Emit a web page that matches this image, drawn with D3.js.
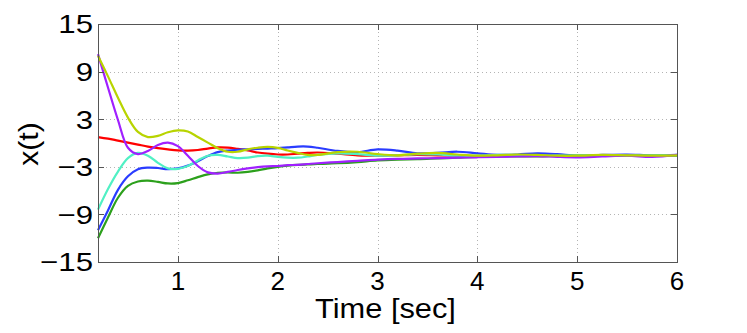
<!DOCTYPE html>
<html>
<head>
<meta charset="utf-8">
<script src="https://cdn.jsdelivr.net/npm/d3@7"></script>
<style>
  body { margin: 0; background: #fff; }
  text { font-family: "Liberation Sans", Arial, sans-serif; fill: #000; }
</style>
</head>
<body>
<div class="grafico"></div>
<script>
var width = 747, height = 333;
var margin = { top: 24, right: 70, bottom: 71, left: 98 };

// sample times (sec)
var time = [0.2, 0.3, 0.4, 0.5, 0.6, 0.7, 0.8, 0.9, 1.0, 1.1, 1.2, 1.3, 1.4, 1.5, 1.6, 1.7, 1.8, 1.9, 2.0, 2.1,
  2.2, 2.3, 2.4, 2.6, 2.8, 3.0, 3.2, 3.4, 3.6, 3.8, 4.0, 4.2, 4.4, 4.6, 4.8, 5.0, 5.25, 5.5, 5.75, 6.0];

// one series per state
var xRed = [0.75, 0.55, 0.3, 0.05, -0.2, -0.45, -0.65, -0.8, -0.92, -0.95, -0.88, -0.7, -0.55, -0.58, -0.75, -0.95, -1.2, -1.35, -1.45, -1.45,
  -1.35, -1.25, -1.2, -1.35, -1.55, -1.6, -1.55, -1.5, -1.55, -1.6, -1.65, -1.6, -1.55, -1.6, -1.6, -1.6, -1.55, -1.6, -1.6, -1.58];
var xBlue = [-11.0, -8.5, -5.9, -4.2, -3.3, -3.1, -3.15, -3.3, -3.2, -2.85, -2.3, -1.65, -1.15, -0.95, -0.85, -0.8, -0.75, -0.7, -0.65, -0.55,
  -0.45, -0.45, -0.6, -1.0, -1.15, -0.8, -0.95, -1.3, -1.25, -1.1, -1.3, -1.5, -1.45, -1.3, -1.4, -1.6, -1.5, -1.45, -1.55, -1.5];
var xGreen = [-12.0, -9.4, -6.9, -5.4, -4.85, -4.75, -4.9, -5.1, -5.05, -4.7, -4.3, -3.95, -3.75, -3.7, -3.75, -3.65, -3.45, -3.2, -3.0, -2.85,
  -2.75, -2.7, -2.65, -2.55, -2.4, -2.2, -2.1, -2.05, -1.95, -1.85, -1.75, -1.7, -1.7, -1.7, -1.65, -1.6, -1.6, -1.6, -1.6, -1.6];
var xCyan = [-8.4, -5.8, -3.6, -1.9, -1.25, -1.6, -2.5, -3.2, -3.25, -2.9, -2.2, -1.6, -1.5, -1.7, -1.9, -1.85, -1.65, -1.6, -1.75, -1.85,
  -1.85, -1.7, -1.5, -1.3, -1.4, -1.6, -1.55, -1.4, -1.45, -1.6, -1.6, -1.5, -1.5, -1.6, -1.6, -1.55, -1.55, -1.6, -1.55, -1.55];
var xPurple = [11.2, 7.0, 2.9, -0.6, -1.4, -1.0, -0.25, 0.05, -0.4, -1.6, -2.9, -3.7, -3.85, -3.65, -3.4, -3.2, -3.05, -2.95, -2.9, -2.8,
  -2.75, -2.65, -2.55, -2.4, -2.25, -2.1, -2.0, -1.95, -1.9, -1.85, -1.8, -1.75, -1.7, -1.65, -1.75, -1.8, -1.7, -1.6, -1.75, -1.5];
var xYellow = [11.0, 8.4, 5.7, 3.2, 1.4, 0.75, 0.9, 1.35, 1.6, 1.45, 0.75, 0.05, -0.65, -1.1, -1.1, -0.8, -0.6, -0.5, -0.62, -0.95,
  -1.25, -1.5, -1.5, -1.15, -1.1, -1.4, -1.55, -1.35, -1.25, -1.45, -1.6, -1.55, -1.45, -1.5, -1.6, -1.6, -1.5, -1.55, -1.6, -1.55];

var series = [
  { values: xRed, color: "#ff0000" },
  { values: xBlue, color: "#2a3cff" },
  { values: xGreen, color: "#2ca01c" },
  { values: xCyan, color: "#50f0c4" },
  { values: xPurple, color: "#a020ff" },
  { values: xYellow, color: "#b8d400" }
];

var xTicks = [1, 2, 3, 4, 5, 6];
var yTicks = [-15, -9, -3, 3, 9, 15];

var svg = d3.select(".grafico").append("svg")
  .attr("width", width)
  .attr("height", height);

var x = d3.scaleLinear().domain([0.2, 6]).range([margin.left, width - margin.right]);
var y = d3.scaleLinear().domain([-15, 15]).range([height - margin.bottom, margin.top]);

var x0 = margin.left, x1 = width - margin.right;
var y0 = height - margin.bottom, y1 = margin.top;

// grid
var grid = svg.append("g")
  .attr("stroke", "#b4b4b4")
  .attr("stroke-width", 1)
  .attr("stroke-dasharray", "1,3");
grid.selectAll(".gx").data(xTicks.filter(d => d < 6))
  .enter().append("line")
  .attr("x1", d => Math.round(x(d)) + 0.5).attr("x2", d => Math.round(x(d)) + 0.5)
  .attr("y1", y1).attr("y2", y0);
grid.selectAll(".gy").data(yTicks.filter(d => d > -15 && d < 15))
  .enter().append("line")
  .attr("y1", d => Math.round(y(d)) + 0.5).attr("y2", d => Math.round(y(d)) + 0.5)
  .attr("x1", x0).attr("x2", x1);

// lines
var line = d3.line()
  .x((d, i) => x(time[i]))
  .y(d => y(d))
  .curve(d3.curveCatmullRom.alpha(0.5));

svg.append("g").selectAll("path")
  .data(series)
  .enter().append("path")
  .attr("d", d => line(d.values))
  .attr("fill", "none")
  .attr("stroke", d => d.color)
  .attr("stroke-width", 2.2)
  .attr("stroke-linejoin", "round");

// box and ticks
var box = svg.append("g").attr("stroke", "#555").attr("stroke-width", 1).attr("fill", "none");
box.append("rect")
  .attr("x", x0 + 0.5).attr("y", y1 + 0.5)
  .attr("width", x1 - x0).attr("height", y0 - y1);
var tl = 6;
xTicks.forEach(function (t) {
  var px = Math.round(x(t)) + 0.5;
  box.append("line").attr("x1", px).attr("x2", px).attr("y1", y0).attr("y2", y0 - tl);
  box.append("line").attr("x1", px).attr("x2", px).attr("y1", y1).attr("y2", y1 + tl);
});
yTicks.forEach(function (t) {
  var py = Math.round(y(t)) + 0.5;
  box.append("line").attr("x1", x0).attr("x2", x0 + tl).attr("y1", py).attr("y2", py);
  box.append("line").attr("x1", x1).attr("x2", x1 - tl).attr("y1", py).attr("y2", py);
});

// tick labels
svg.append("g").selectAll("text")
  .data(xTicks)
  .enter().append("text")
  .attr("x", d => x(d))
  .attr("y", y0 + 28)
  .attr("text-anchor", "middle")
  .style("font-size", "26px")
  .text(d => d);

// y labels come out a bit wide in the original
svg.append("g").selectAll("text")
  .data(yTicks)
  .enter().append("text")
  .attr("transform", d => "translate(" + (x0 - 5) + "," + y(d) + ") scale(1.2,1)")
  .attr("dy", "0.36em")
  .attr("text-anchor", "end")
  .style("font-size", "26px")
  .text(d => d < 0 ? "\u2212" + Math.abs(d) : d);

// axis titles
svg.append("text")
  .attr("transform", "translate(" + ((x0 + x1) / 2 - 2) + ",318) scale(1.1,1)")
  .attr("text-anchor", "middle")
  .style("font-size", "28px")
  .text("Time [sec]");

svg.append("text")
  .attr("transform", "translate(38,144) rotate(-90) scale(1.08,1)")
  .attr("text-anchor", "middle")
  .style("font-size", "28px")
  .text("x(t)");
</script>
</body>
</html>
